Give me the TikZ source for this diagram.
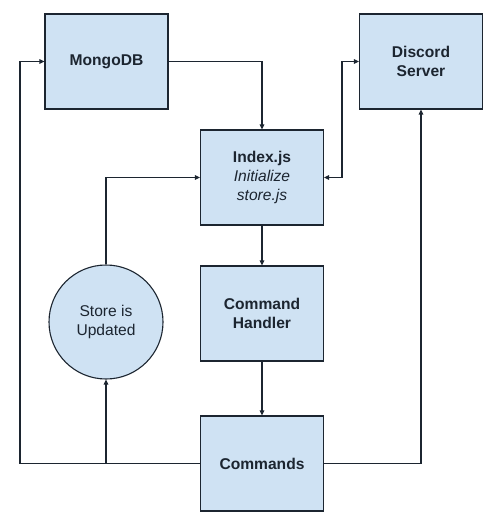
\documentclass[tikz,border=0pt]{standalone}
\usepackage{fontspec}
\setmainfont{Liberation Sans}
\usetikzlibrary{arrows.meta}
\definecolor{boxfill}{HTML}{CFE2F3}
\definecolor{ink}{HTML}{1C2530}
\begin{document}
\begin{tikzpicture}[x=1pt,y=-1pt,
  box/.style={draw=ink,fill=boxfill,line width=1.1pt,minimum width=123pt,minimum height=95pt,inner sep=0pt,align=center,font=\fontsize{15.6}{19}\selectfont\bfseries,text=ink},
  roundbox/.style={circle,draw=ink,fill=boxfill,line width=1.1pt,minimum size=114pt,inner sep=0pt,align=center,font=\fontsize{15.6}{19}\selectfont,text=ink},
  conn/.style={draw=ink,line width=1.1pt,-{Triangle[length=5pt,width=4.5pt]}},
  conn2/.style={draw=ink,line width=1.1pt,{Triangle[length=5pt,width=4.5pt]}-{Triangle[length=5pt,width=4.5pt]}}]
\useasboundingbox (0,0) rectangle (500,526);
\node[box] (mongo) at (106.5,61.5) {MongoDB};
\node[box] (discord) at (421,61.5) {Discord\\Server};
\node[box] (index) at (262,177.5) {Index.js\\{\normalfont\itshape Initialize}\\{\normalfont\itshape store.js}};
\node[box] (handler) at (262,313.5) {Command\\Handler};
\node[box] (commands) at (262,463.5) {Commands};
\node[roundbox] (store) at (106,322) {Store is\\Updated};
\coordinate (j) at (106,463.5);
\draw[conn] (mongo.east) -| (index.north);
\draw[conn] (index.south) -- (handler.north);
\draw[conn] (handler.south) -- (commands.north);
\draw[conn] (commands.west) -- (20,463.5) |- (mongo.west);
\draw[conn] (j) -- (store.south);
\draw[conn] (store.north) |- (index.west);
\draw[conn2] (index.east) -- (342,177.5) |- (discord.west);
\draw[conn] (commands.east) -| (discord.south);
\end{tikzpicture}
\end{document}
